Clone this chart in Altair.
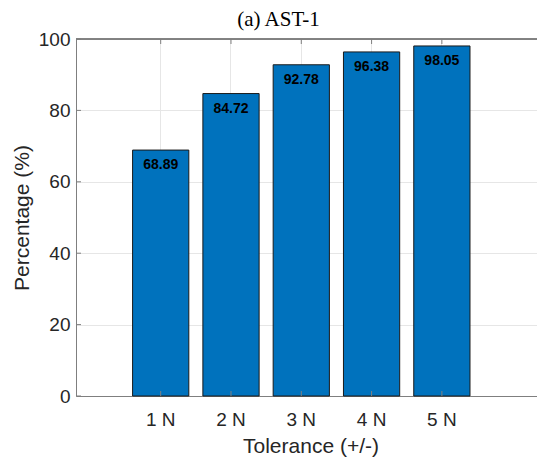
import altair as alt
import pandas as pd

categories = ["1 N", "2 N", "3 N", "4 N", "5 N"]
values = [68.89, 84.72, 92.78, 96.38, 98.05]
y_ticks = [0, 20, 40, 60, 80, 100]
title_text = "(a) AST-1"

df = pd.DataFrame({"cat": categories, "val": values})
df["lbl"] = [f"{v:.2f}" for v in values]
ticks_df = pd.DataFrame({"t": y_ticks})

W, H = 469, 357
AX = "#7f7f7f"
TXT = "#262626"

xscale = alt.Scale(domain=categories, paddingInner=0.2, paddingOuter=0.936, align=0.43, round=False)
yscale = alt.Scale(domain=[0, 100], nice=False, zero=True)

x_enc = alt.X("cat:N", scale=xscale, sort=categories,
              axis=alt.Axis(title="Tolerance (+/-)", labelAngle=0, tickSize=0, labelPadding=14,
                            labelFontSize=19, titleFontSize=21, titlePadding=6,
                            labelColor=TXT, titleColor=TXT, titleFontWeight="normal",
                            domainColor=AX, grid=True, gridColor="#e6e6e6",
                            labelFont="Liberation Sans", titleFont="Liberation Sans"))
y_enc = alt.Y("val:Q", scale=yscale,
              axis=alt.Axis(title="Percentage (%)", values=y_ticks, tickSize=0, labelPadding=6,
                            labelFontSize=19, titleFontSize=21, titlePadding=6,
                            labelColor=TXT, titleColor=TXT, titleFontWeight="normal",
                            domainColor=AX, grid=True, gridColor="#e6e6e6",
                            labelFont="Liberation Sans", titleFont="Liberation Sans"))

base = alt.Chart(df)

bars = base.mark_bar(color="#0072BD", stroke="#1a1a1a", strokeWidth=1).encode(x=x_enc, y=y_enc)

labels = base.mark_text(baseline="middle", align="center", dy=15, fontSize=14,
                        fontWeight="bold", font="Liberation Sans", color="#000000").encode(
    x=alt.X("cat:N", scale=xscale, sort=categories),
    y=alt.Y("val:Q", scale=yscale),
    text="lbl:N")

tick_len = 5
left_ticks = alt.Chart(ticks_df).mark_rule(color=AX, strokeWidth=1).encode(
    x=alt.value(0), x2=alt.value(tick_len), y=alt.Y("t:Q", scale=yscale))
bottom_ticks = base.mark_rule(color=AX, strokeWidth=1).encode(
    x=alt.X("cat:N", scale=xscale, sort=categories), y=alt.value(H), y2=alt.value(H - tick_len))
top_ticks = base.mark_rule(color=AX, strokeWidth=1).encode(
    x=alt.X("cat:N", scale=xscale, sort=categories), y=alt.value(0), y2=alt.value(tick_len))
top_border = base.mark_rule(color=AX, strokeWidth=1).encode(
    x=alt.value(0), x2=alt.value(W), y=alt.value(0))

chart = alt.layer(bars, labels, left_ticks, bottom_ticks, top_ticks, top_border).properties(
    width=W, height=H,
    title=alt.TitleParams(title_text, font="Liberation Serif", fontSize=21, fontWeight="normal",
                          color="#000000", anchor="middle", frame="group",
                          dx=-32, offset=0),
    autosize=alt.AutoSizeParams(type="none"),
    padding={"left": 68, "top": 31, "right": -8, "bottom": 61},
).configure_view(stroke=None)

chart.save("out.html", embed_options={"renderer": "svg", "actions": False})
